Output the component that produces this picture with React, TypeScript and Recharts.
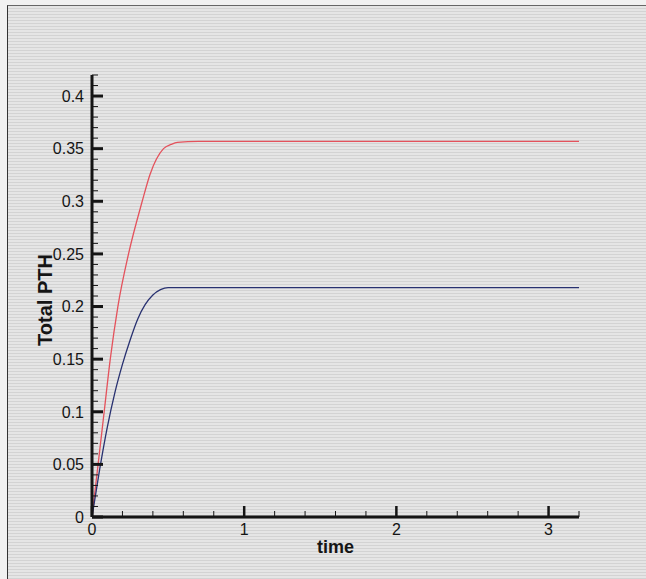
import React from 'react';
import { LineChart, Line, XAxis, YAxis, Label } from 'recharts';

// red curve (upper)
const redTime = [0, 0.02, 0.04, 0.08, 0.12, 0.17, 0.24, 0.33, 0.38, 0.47, 0.52, 0.56, 0.7, 1, 2, 3.2];
const redPth = [0, 0.025, 0.05, 0.1, 0.15, 0.2, 0.25, 0.3, 0.325, 0.35, 0.354, 0.356, 0.357, 0.357, 0.357, 0.357];

// blue curve (lower)
const blueTime = [0, 0.05, 0.1, 0.15, 0.2, 0.25, 0.3, 0.35, 0.4, 0.45, 0.5, 0.6, 1, 2, 3.2];
const bluePth = [0, 0.045, 0.085, 0.118, 0.145, 0.168, 0.188, 0.202, 0.211, 0.216, 0.218, 0.218, 0.218, 0.218, 0.218];

const xMajor = [0, 1, 2, 3];
const xLabels = ['0', '1', '2', '3'];
const xMinor = [0.2, 0.4, 0.6, 0.8, 1.2, 1.4, 1.6, 1.8, 2.2, 2.4, 2.6, 2.8, 3.2];

const yMajor = [0, 0.05, 0.1, 0.15, 0.2, 0.25, 0.3, 0.35, 0.4];
const yLabels = ['0', '0.05', '0.1', '0.15', '0.2', '0.25', '0.3', '0.35', '0.4'];
const yMinor = Array.from({ length: 43 }, (_, i) => i / 100).filter(
  v => !yMajor.some(m => Math.abs(m - v) < 1e-6)
);

const redData = redTime.map((t, i) => ({ time: t, pth: redPth[i] }));
const blueData = blueTime.map((t, i) => ({ time: t, pth: bluePth[i] }));

const FONT = '"Liberation Sans", Arial, Helvetica, sans-serif';
const INK = '#151515';

const XTick = (props: any) => {
  const { x, y, payload } = props;
  const idx = xMajor.findIndex(m => Math.abs(m - payload.value) < 1e-6);
  const major = idx >= 0;
  return (
    <g>
      <line x1={x} x2={x} y1={y} y2={y - (major ? 11 : 6)} stroke={INK} strokeWidth={major ? 2.5 : 1} />
      {major && (
        <text x={x} y={y + 18} textAnchor="middle" fontSize={16} fontFamily={FONT} fill={INK}>
          {xLabels[idx]}
        </text>
      )}
    </g>
  );
};

const YTick = (props: any) => {
  const { x, y, payload } = props;
  const idx = yMajor.findIndex(m => Math.abs(m - payload.value) < 1e-6);
  const major = idx >= 0;
  return (
    <g>
      <line x1={x} x2={x + (major ? 11 : 6)} y1={y} y2={y} stroke={INK} strokeWidth={major ? 3 : 1} />
      {major && (
        <text x={x - 8} y={y} dy="0.36em" textAnchor="end" fontSize={16} fontFamily={FONT} fill={INK}>
          {yLabels[idx]}
        </text>
      )}
    </g>
  );
};

export default function App() {
  return (
    <div
      style={{
        position: 'fixed',
        left: 0,
        top: 0,
        width: 646,
        height: 579,
        background: '#f1f1f1',
        overflow: 'hidden',
      }}
    >
      <div
        style={{
          position: 'absolute',
          left: 7,
          top: 5,
          right: 0,
          bottom: 0,
          borderLeft: '1.5px solid #333',
          borderTop: '1px solid #666',
          background:
            'repeating-linear-gradient(180deg, #e5e5e5 0px, #e5e5e5 2px, #d3d3d3 2px, #d3d3d3 3px)',
        }}
      />
      <div style={{ position: 'absolute', left: 0, top: 0 }}>
        <LineChart width={646} height={579} margin={{ top: 75, right: 67, bottom: 0, left: 0 }}>
          <XAxis
            dataKey="time"
            type="number"
            domain={[0, 3.2]}
            ticks={[...xMajor, ...xMinor]}
            interval={0}
            height={62}
            tickLine={false}
            tickSize={0}
            tickMargin={0}
            tick={<XTick />}
            axisLine={{ stroke: INK, strokeWidth: 3 }}
            allowDataOverflow
          >
            <Label value="time" position="center" dy={-1} fontSize={18} fontWeight="bold" fontFamily={FONT} fill={INK} />
          </XAxis>
          <YAxis
            dataKey="pth"
            type="number"
            domain={[0, 0.42]}
            ticks={[...yMajor, ...yMinor]}
            interval={0}
            width={92}
            tickLine={false}
            tickSize={0}
            tickMargin={0}
            tick={<YTick />}
            axisLine={{ stroke: INK, strokeWidth: 3 }}
            allowDataOverflow
          >
            <Label
              value="Total PTH"
              position="center"
              angle={-90}
              dy={4}
              dx={-1}
              fontSize={20}
              fontWeight="bold"
              fontFamily={FONT}
              fill={INK}
            />
          </YAxis>
          <Line
            data={redData}
            dataKey="pth"
            type="monotone"
            stroke="#e4525c"
            strokeWidth={1.3}
            dot={false}
            isAnimationActive={false}
          />
          <Line
            data={blueData}
            dataKey="pth"
            type="monotone"
            stroke="#283170"
            strokeWidth={1.3}
            dot={false}
            isAnimationActive={false}
          />
        </LineChart>
      </div>
    </div>
  );
}
